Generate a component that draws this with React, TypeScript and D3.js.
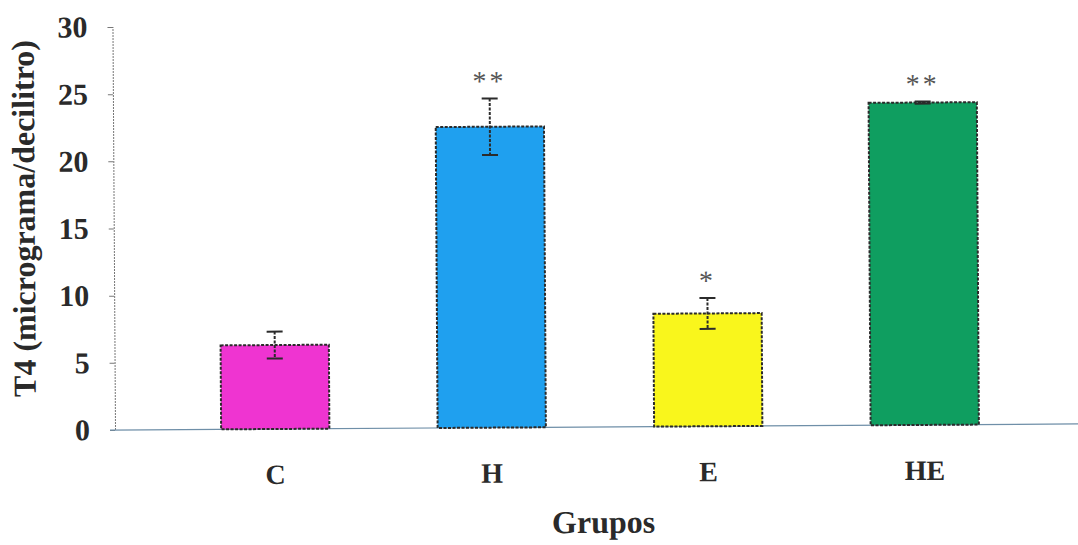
import React, { useEffect, useRef } from 'react'
import * as d3 from 'd3'

// values
const groups = ['C', 'H', 'E', 'HE']
const means = [6.25, 22.4, 8.4, 24.0]
const errors = [1.0, 2.1, 1.15, 0.08]
const marks = ['', '**', '*', '**']
const colors = ['#ef34d1', '#1fa0ef', '#f9f61c', '#0f9e60']
const yTicks = [0, 5, 10, 15, 20, 25, 30]

const W = 1078
const H = 545
const FONT = '"Liberation Serif", "Times New Roman", serif'

export default function App () {
  const ref = useRef<SVGSVGElement>(null)

  useEffect(() => {
    const root = d3.select(ref.current)
    root.selectAll('*').remove()

    // the scan is slightly tilted, so everything sits in one rotated group
    const svg = root.append('g')
      .attr('transform', 'rotate(-0.36, 115, 430)')

    const x = d3.scaleBand<string>()
      .domain(groups)
      .range([167, 1033])
      .paddingInner(0.5)
      .paddingOuter(0.25)

    const y = d3.scaleLinear()
      .domain([0, 30])
      .range([430, 27])

    const data = groups.map((g, i) => ({ g, v: means[i], e: errors[i], m: marks[i], c: colors[i] }))

    // y axis
    const yAxis = svg.append('g')
      .attr('transform', 'translate(115,0)')
      .call(d3.axisLeft(y).tickValues(yTicks).tickSize(5).tickPadding(20))
    yAxis.select('.domain').attr('stroke', '#777').attr('stroke-width', 1).attr('stroke-dasharray', '2,1')
    yAxis.selectAll('.tick line').attr('stroke', '#777')
    yAxis.selectAll('text')
      .attr('font-family', FONT)
      .attr('font-weight', 'bold')
      .attr('font-size', 30)
      .attr('fill', '#2a2a2a')

    // x axis line
    svg.append('line')
      .attr('x1', 110).attr('x2', W + 5)
      .attr('y1', y(0)).attr('y2', y(0))
      .attr('stroke', '#6f8fa8')
      .attr('stroke-width', 1.2)

    // bars
    svg.selectAll('.bar')
      .data(data)
      .enter()
      .append('rect')
      .attr('class', 'bar')
      .attr('x', d => x(d.g) as number)
      .attr('width', x.bandwidth())
      .attr('y', d => y(d.v))
      .attr('height', d => y(0) - y(d.v))
      .attr('fill', d => d.c)
      .attr('stroke', '#2b2b2b')
      .attr('stroke-width', 2)
      .attr('stroke-dasharray', '3,1.5')

    // error bars
    const err = svg.selectAll('.err')
      .data(data)
      .enter()
      .append('g')
      .attr('class', 'err')
      .attr('stroke', '#2b2b2b')
      .attr('stroke-width', 2)

    const cx = d => (x(d.g) as number) + x.bandwidth() / 2
    err.append('line')
      .attr('x1', cx).attr('x2', cx)
      .attr('y1', d => y(d.v + d.e)).attr('y2', d => y(d.v - d.e))
      .attr('stroke-dasharray', '3,1.5')
    err.append('line')
      .attr('x1', d => cx(d) - 8).attr('x2', d => cx(d) + 8)
      .attr('y1', d => y(d.v + d.e)).attr('y2', d => y(d.v + d.e))
    err.append('line')
      .attr('x1', d => cx(d) - 8).attr('x2', d => cx(d) + 8)
      .attr('y1', d => y(d.v - d.e)).attr('y2', d => y(d.v - d.e))

    // significance marks
    svg.selectAll('.mark')
      .data(data)
      .enter()
      .append('text')
      .attr('x', cx)
      .attr('y', d => y(d.v + d.e) - 8)
      .attr('text-anchor', 'middle')
      .attr('font-family', FONT)
      .attr('font-size', 28)
      .attr('fill', '#555')
      .attr('letter-spacing', 3)
      .text(d => d.m)

    // category labels
    svg.selectAll('.cat')
      .data(data)
      .enter()
      .append('text')
      .attr('x', cx)
      .attr('y', 485)
      .attr('text-anchor', 'middle')
      .attr('font-family', FONT)
      .attr('font-weight', 'bold')
      .attr('font-size', 28)
      .attr('fill', '#2a2a2a')
      .text(d => d.g)

    // axis titles
    svg.append('text')
      .attr('x', 603)
      .attr('y', 536)
      .attr('text-anchor', 'middle')
      .attr('font-family', FONT)
      .attr('font-weight', 'bold')
      .attr('font-size', 32)
      .attr('fill', '#2a2a2a')
      .text('Grupos')

    svg.append('text')
      .attr('transform', 'translate(36,218) rotate(-90)')
      .attr('text-anchor', 'middle')
      .attr('font-family', FONT)
      .attr('font-weight', 'bold')
      .attr('font-size', 32)
      .attr('fill', '#2a2a2a')
      .text('T4 (micrograma/decilitro)')
  }, [])

  return (
    <svg ref={ref} width={W} height={H} style={{ position: 'absolute', left: 0, top: 0, background: '#fff' }} />
  )
}
